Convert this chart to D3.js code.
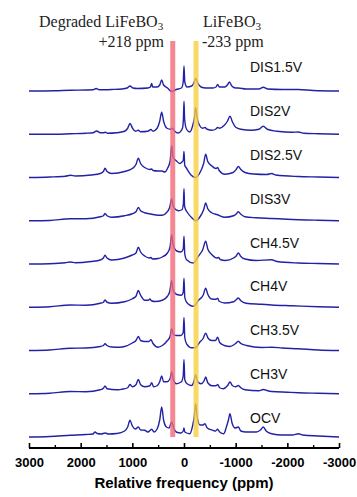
<!DOCTYPE html>
<html>
<head>
<meta charset="utf-8">
<script src="https://cdnjs.cloudflare.com/ajax/libs/d3/7.8.5/d3.min.js"></script>
<style>
  body { margin: 0; background: #fff; }
  svg { display: block; }
</style>
</head>
<body>
<div id="chart"></div>
<script>
// spectrum labels, top to bottom
const labels = ["DIS1.5V", "DIS2V", "DIS2.5V", "DIS3V", "CH4.5V", "CH4V", "CH3.5V", "CH3V", "OCV"];

// [ppm, intensity]
const dis15 = [[3000,0],[2500,0.3],[2200,0.8],[1900,1],[1760,1.2],[1700,2.5],[1640,1.2],[1400,1.5],[1200,2],[1100,3],[1045,5],[990,3],[900,2.5],[700,3],[650,4],[626,7.5],[605,4],[520,4],[470,6],[432,11],[395,6],[320,3],[239,-0.5],[150,1.5],[50,3],[15,9],[0,25],[-15,9],[-60,4],[-150,5],[-190,8],[-226,12.5],[-265,8],[-330,4],[-420,3],[-560,3],[-620,4],[-651,6.5],[-685,4],[-790,4],[-840,6],[-880,9],[-925,5],[-1000,3],[-1050,3],[-1200,2],[-1450,2],[-1535,3.7],[-1620,2],[-1900,1.5],[-2212,1.5],[-2500,0.5],[-3000,0]];
const dis2 = [[3000,0],[2500,0],[2200,0.5],[1900,1],[1760,1.5],[1690,3.3],[1620,1.5],[1560,1.5],[1520,2],[1480,1],[1300,1.5],[1150,3],[1090,6],[1045,10.7],[995,6],[940,3],[884,4],[840,2.5],[700,3],[640,4.7],[600,3],[520,6],[470,13],[432,22],[395,13],[330,6],[260,5],[218,6],[180,3],[110,1.3],[30,6],[12,15],[0,33],[-12,15],[-50,5],[-110,2.3],[-170,9],[-200,16],[-226,26.7],[-255,16],[-300,9],[-360,6],[-406,6.7],[-450,5],[-540,4],[-610,5],[-651,6.7],[-690,6],[-780,9],[-840,13],[-890,18],[-940,12],[-1000,7],[-1100,5],[-1300,4],[-1450,5],[-1535,8],[-1610,5],[-1800,3],[-2100,2],[-2212,2.3],[-2320,1],[-2600,0.5],[-3000,0]];
const dis25 = [[3000,0],[2600,0.5],[2300,1.2],[2200,2.3],[2100,1.5],[1800,2.5],[1620,4],[1560,6],[1529,9.3],[1490,6],[1400,4],[1150,6],[1000,9],[930,13],[884,19.3],[840,14],[760,10],[660,8],[626,8.5],[600,7],[500,6.5],[432,6.5],[370,5.5],[320,9],[270,16],[239,31.7],[210,20],[150,16.7],[80,14],[50,15],[15,17],[0,26],[-15,12],[-40,10],[-140,2.3],[-226,0],[-310,5],[-380,14],[-420,23.3],[-460,16],[-535,11.7],[-620,9],[-651,10],[-680,7],[-790,3.3],[-950,5],[-1010,8],[-1051,11],[-1100,8],[-1180,5],[-1350,3.5],[-1600,3],[-1696,4],[-1780,2.5],[-2212,1],[-2600,0.5],[-3000,0]];
const dis3 = [[3000,0],[2600,0.3],[2200,2],[1900,2],[1620,4],[1560,5],[1529,7.3],[1490,5],[1400,3.5],[1150,5],[1000,7],[930,9],[884,13.3],[840,10],[760,8],[640,6.7],[500,5.5],[420,5.5],[340,8],[280,13],[239,21.7],[205,14],[110,10],[40,11],[12,17],[0,32],[-12,14],[-70,8],[-150,3],[-226,0],[-310,4],[-380,11],[-420,17.7],[-460,12],[-535,8],[-650,6],[-790,3.5],[-960,5],[-1015,7],[-1051,9],[-1100,6.5],[-1180,4],[-1400,3],[-1696,2.3],[-2000,1.5],[-2600,0.5],[-3000,0]];
const ch45 = [[3000,0],[2600,0.3],[2300,1.2],[2200,2],[2100,1.3],[1800,2.5],[1620,4],[1560,6],[1529,8.7],[1490,6],[1400,4],[1150,6],[1000,9],[930,11],[884,16.7],[840,12],[760,8],[670,6],[640,6.5],[610,5],[500,5.5],[420,7],[320,11],[270,17],[239,29.3],[210,19],[140,13],[60,12],[15,15],[0,27.7],[-15,10],[-50,4.3],[-180,1],[-280,8],[-360,14],[-420,22.7],[-460,15],[-540,9.3],[-640,6],[-670,6.5],[-700,4.5],[-800,3.5],[-960,6],[-1010,8],[-1051,11],[-1100,7.5],[-1180,5],[-1400,3.5],[-1696,4.3],[-1800,2.5],[-2212,1],[-2600,0.5],[-3000,0]];
const ch4 = [[3000,0],[2600,0.5],[2200,2.3],[1900,2],[1620,4],[1560,5],[1529,7.3],[1490,5],[1400,4],[1150,5.5],[1000,8.5],[930,11],[884,16.7],[840,12],[760,7],[690,7],[660,8.3],[630,6.5],[560,5.7],[420,7],[320,11],[275,16],[239,26.7],[210,17],[150,13],[50,12],[15,15],[0,29],[-15,10],[-50,5],[-180,1],[-280,7],[-370,12],[-420,19],[-460,13],[-535,8.3],[-620,8],[-651,9],[-680,6],[-790,4.3],[-960,5.5],[-1010,7.5],[-1051,9.3],[-1100,6.5],[-1200,4],[-1500,3],[-1696,2.3],[-2100,1.5],[-2600,0.5],[-3000,0]];
const ch35 = [[3000,0],[2600,0.5],[2200,2.3],[1900,2.5],[1620,4],[1560,5],[1529,6.7],[1490,5],[1400,3.5],[1240,3.3],[1150,4],[1000,7.5],[930,10],[884,14],[840,10],[760,9],[680,9],[640,10.7],[600,7],[500,3.3],[420,5],[320,10],[270,14],[239,21.7],[205,16],[150,15],[60,15],[15,18],[0,33],[-15,13],[-50,6.7],[-150,2.7],[-226,3],[-300,8],[-370,12],[-420,17.3],[-470,12],[-535,10],[-610,10],[-651,13.3],[-690,8],[-780,5],[-890,4],[-1000,7],[-1051,9.3],[-1100,7],[-1210,5],[-1500,3],[-1696,3.3],[-1900,2.5],[-2212,1.7],[-2600,0.5],[-3000,0]];
const ch3 = [[3000,0],[2600,0.5],[2200,2.3],[1900,2],[1620,4],[1560,5.5],[1529,7.7],[1490,5],[1300,4],[1270,4],[1200,4.5],[1090,6],[1045,9.3],[1000,7],[930,9],[884,14.3],[840,9],[760,7],[660,8],[626,11],[590,7],[520,8],[470,12],[432,17.7],[395,12],[330,12],[270,15],[239,21.7],[205,14],[150,10],[50,12],[15,18],[0,34.3],[-15,14],[-60,10],[-150,8.3],[-190,12],[-226,19],[-265,12],[-330,10],[-390,13],[-420,16.7],[-460,11],[-540,8],[-620,8],[-651,9.3],[-690,6],[-760,5],[-840,8],[-890,11.7],[-940,8],[-1000,7],[-1051,8.3],[-1100,6],[-1180,4],[-1450,3],[-1535,4.3],[-1620,3],[-1696,2.3],[-2000,1.5],[-2212,1],[-2600,0.5],[-3000,0]];
const ocv = [[3000,0],[2600,0.5],[2200,1.7],[1900,2.5],[1760,3],[1722,5],[1680,3.5],[1600,3],[1529,4],[1460,3],[1300,3.5],[1150,6],[1090,10],[1045,16.7],[1000,11],[940,8],[884,10],[840,7],[760,6.7],[700,5],[626,7.7],[580,5],[520,8],[470,17],[432,30],[395,17],[340,10],[290,9],[239,15],[200,9],[150,5],[60,4],[15,6],[0,9],[-15,5],[-110,3.3],[-170,12],[-200,21],[-226,33.3],[-255,20],[-310,12],[-370,12],[-406,13.3],[-450,9],[-560,6.7],[-610,6],[-651,7.7],[-690,5],[-770,3.3],[-820,10],[-860,17],[-890,23.3],[-930,14],[-990,9],[-1051,10],[-1100,6],[-1200,5],[-1400,5],[-1480,7],[-1535,10],[-1590,6],[-1696,3.3],[-1900,2],[-2100,2],[-2212,3.3],[-2300,2],[-2600,1],[-3000,0]];

const spectra = [dis15, dis2, dis25, dis3, ch45, ch4, ch35, ch3, ocv];

// marked shifts (ppm)
const markers = [218, -233];
const majorTicks = [3000, 2000, 1000, 0, -1000, -2000, -3000];
const minorTicks = [2500, 1500, 500, -500, -1500, -2500];

const width = 357, height = 497;

const svg = d3.select('#chart').append('svg')
  .attr('width', width)
  .attr('height', height);

const x = d3.scaleLinear().domain([3000, -3000]).range([29, 339]);
const yBase = d3.scalePoint().domain(labels).range([91, 437]);
const yLabel = d3.scalePoint().domain(labels).range([72, 423]);
const amp = d3.scaleLinear().domain([0, 40]).range([0, 40]);

const line = d3.line()
  .x(d => x(d[0]))
  .curve(d3.curveMonotoneX);

const specGroup = svg.append('g').classed('spectra', true);
spectra.forEach((s, i) => {
  const base = yBase(labels[i]);
  specGroup.append('path')
    .datum(s)
    .attr('fill', 'none')
    .attr('stroke', '#2222a6')
    .attr('stroke-width', 1.4)
    .attr('stroke-linejoin', 'round')
    .attr('d', line.y(d => base - amp(d[1])));
});

specGroup.selectAll('text.lbl')
  .data(labels)
  .enter().append('text')
    .classed('lbl', true)
    .attr('x', 250)
    .attr('y', d => yLabel(d))
    .attr('font-family', 'Liberation Sans, Arial, sans-serif')
    .attr('font-size', 14)
    .attr('fill', '#111')
    .text(d => d);

// vertical marker bands
const bandColors = ['#f06a78', '#f6cf3e'];
svg.append('g').selectAll('rect')
  .data(markers)
  .enter().append('rect')
    .attr('x', d => x(d) - 2.5)
    .attr('y', 41)
    .attr('width', 5)
    .attr('height', yBase(labels[labels.length - 1]) - 41)
    .attr('fill', (d, i) => bandColors[i])
    .attr('opacity', 0.8);

// annotations
const serif = 'Liberation Serif, Times New Roman, serif';
const t1 = svg.append('text').attr('x', 39).attr('y', 27)
  .attr('font-family', serif).attr('font-size', 16).attr('fill', '#222');
t1.append('tspan').text('Degraded LiFeBO');
t1.append('tspan').attr('font-size', 11).attr('dy', 3).text('3');
svg.append('text').attr('x', 164).attr('y', 47)
  .attr('text-anchor', 'end')
  .attr('font-family', serif).attr('font-size', 16).attr('fill', '#222')
  .text('+' + markers[0] + ' ppm');
const t2 = svg.append('text').attr('x', 203).attr('y', 27)
  .attr('font-family', serif).attr('font-size', 16).attr('fill', '#222');
t2.append('tspan').text('LiFeBO');
t2.append('tspan').attr('font-size', 11).attr('dy', 3).text('3');
svg.append('text').attr('x', 202).attr('y', 47)
  .attr('font-family', serif).attr('font-size', 16).attr('fill', '#222')
  .text(markers[1] + ' ppm');

// x axis
const axisY = 448;
const xAxis = d3.axisBottom(x)
  .tickValues(majorTicks)
  .tickSize(-5)
  .tickPadding(10)
  .tickFormat(d => String(d));
const axisG = svg.append('g')
  .attr('transform', `translate(0,${axisY})`)
  .call(xAxis);
axisG.select('.domain').attr('stroke-width', 2).attr('d', `M${x(3000)},0H${x(-3000)}`);
axisG.selectAll('.tick line').attr('stroke-width', 1.6);
axisG.selectAll('.tick text')
  .attr('font-family', 'Liberation Sans, Arial, sans-serif')
  .attr('font-size', 13)
  .attr('font-weight', 'bold')
  .attr('fill', '#000');

const minorG = svg.append('g')
  .attr('transform', `translate(0,${axisY})`)
  .call(d3.axisBottom(x).tickValues(minorTicks).tickSize(-3).tickFormat(''));
minorG.select('.domain').remove();
minorG.selectAll('.tick line').attr('stroke-width', 1.4);

svg.append('text')
  .attr('x', x(0))
  .attr('y', 488)
  .attr('text-anchor', 'middle')
  .attr('font-family', 'Liberation Sans, Arial, sans-serif')
  .attr('font-size', 15)
  .attr('font-weight', 'bold')
  .text('Relative frequency (ppm)');
</script>
</body>
</html>
